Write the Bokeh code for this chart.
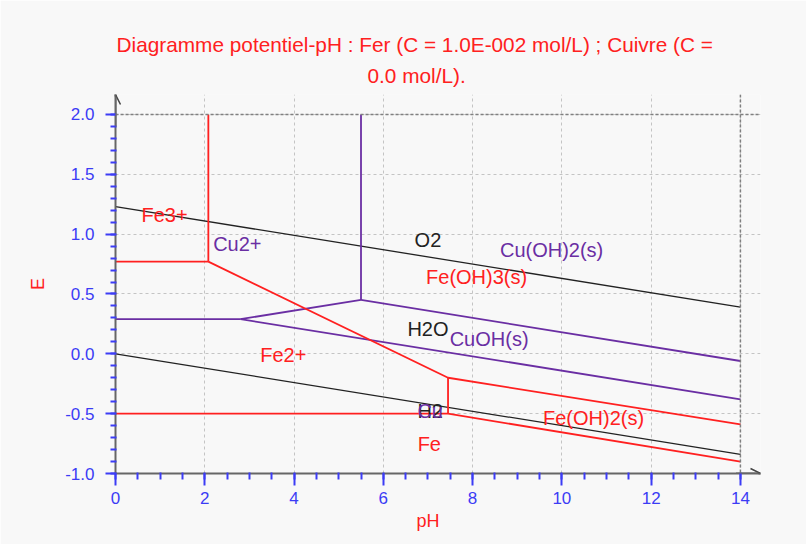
import math
from bokeh.plotting import figure
from bokeh.models import (ColumnDataSource, FixedTicker, NumeralTickFormatter, Title,
                          Arrow, OpenHead, Span)
from bokeh.core.properties import value
from bokeh.embed import file_html
from bokeh.resources import INLINE

# ---------------- data ----------------
# water lines
water_ph = [[0, 14], [0, 14]]
water_E = [[1.23, 0.39], [0.0, -0.84]]

# iron boundaries
fe_ph = [[2.08, 2.08], [0, 2.08], [2.08, 7.45], [7.45, 7.45], [0, 7.45], [7.45, 14], [7.45, 14]]
fe_E = [[0.77, 2.0], [0.77, 0.77], [0.77, -0.2], [-0.2, -0.5], [-0.5, -0.5], [-0.2, -0.59], [-0.5, -0.9]]

# copper boundaries
cu_ph = [[5.5, 5.5], [0, 2.8], [2.8, 5.5], [5.5, 14], [2.8, 14]]
cu_E = [[0.45, 2.0], [0.29, 0.29], [0.29, 0.45], [0.45, -0.06], [0.29, -0.38]]

# species labels
water_lbl = ["O2", "H2O", "H2"]
water_lbl_ph = [7.0, 7.0, 7.05]
water_lbl_E = [0.955, 0.21, -0.48]

fe_lbl = ["Fe3+", "Fe(OH)3(s)", "Fe2+", "Fe", "Fe(OH)2(s)"]
fe_lbl_ph = [1.1, 8.09, 3.76, 7.03, 10.71]
fe_lbl_E = [1.156, 0.638, -0.006, -0.75, -0.54]

cu_lbl = ["Cu2+", "Cu(OH)2(s)", "CuOH(s)", "Cu"]
cu_lbl_ph = [2.73, 9.77, 8.37, 7.05]
cu_lbl_E = [0.914, 0.864, 0.12, -0.48]

x_ticks = [0, 2, 4, 6, 8, 10, 12, 14]
y_ticks = [-1.0, -0.5, 0.0, 0.5, 1.0, 1.5, 2.0]

title_lines = ["Diagramme potentiel-pH : Fer (C = 1.0E-002 mol/L) ; Cuivre (C =", "0.0 mol/L)."]

# ---------------- styling ----------------
RED = "#ff2020"
PURPLE = "#6a2ea3"
BLACK = "#222222"
BLUE = "#3c3cf5"
BG = "#f8f8f8"
FONT = "Liberation Sans"

X_END = 14.45
Y_END = 2.167

p = figure(width=806, height=544, output_backend="svg", toolbar_location=None,
           x_range=(0, X_END), y_range=(-1.0, Y_END),
           min_border_left=115, min_border_right=46, min_border_top=94, min_border_bottom=71)
p.background_fill_color = BG
p.border_fill_color = BG
p.outline_line_color = None

# title: two lines
p.title.text = title_lines[0]
p.title.align = "left"
p.title.offset = 1
p.title.standoff = -2
p.title.text_color = RED
p.title.text_font = FONT
p.title.text_font_size = "20.8px"
p.title.text_font_style = "normal"
p.add_layout(Title(text=title_lines[1], align="left", offset=252, standoff=15,
                   text_color=RED, text_font=FONT, text_font_size="20.8px",
                   text_font_style="normal"), "above")

# grid
for g in (p.xgrid, p.ygrid):
    g.grid_line_color = "#c4c4c4"
    g.grid_line_dash = "3 3"
    g.grid_line_width = 1

p.xaxis.ticker = FixedTicker(ticks=x_ticks, minor_ticks=[i * 0.5 for i in range(29)])
p.yaxis.ticker = FixedTicker(ticks=y_ticks, minor_ticks=[round(-1 + i * 0.1, 2) for i in range(31)])
p.xgrid.ticker = FixedTicker(ticks=x_ticks)
p.ygrid.ticker = FixedTicker(ticks=y_ticks)
p.yaxis.formatter = NumeralTickFormatter(format="0.0")

for ax in (p.xaxis, p.yaxis):
    ax.axis_line_color = "#666666"
    ax.axis_line_width = 2
    ax.major_tick_line_color = BLUE
    ax.major_tick_line_width = 2
    ax.minor_tick_line_color = BLUE
    ax.minor_tick_line_width = 2
    ax.major_label_text_color = BLUE
    ax.major_label_text_font = FONT
    ax.major_label_text_font_size = "17px"
    ax.major_tick_in = 0
    ax.minor_tick_in = 1
p.xaxis.major_tick_out = 12
p.xaxis.minor_tick_out = 6
p.xaxis.major_label_standoff = 6
p.yaxis.major_tick_out = 10
p.yaxis.minor_tick_out = 5
p.yaxis.major_label_standoff = 11

# axis titles
p.yaxis.axis_label = "E"
p.yaxis.axis_label_text_color = RED
p.yaxis.axis_label_text_font = FONT
p.yaxis.axis_label_text_font_size = "18px"
p.yaxis.axis_label_text_font_style = "normal"
p.yaxis.axis_label_standoff = 14

p.add_layout(Title(text="pH", align="left", offset=301, standoff=4,
                   text_color=RED, text_font=FONT, text_font_size="18px",
                   text_font_style="normal"), "below")

# dashed frame edges at E=2 and pH=14
p.add_layout(Span(location=2.0, dimension="width", line_color="#808080", line_dash="3 2", line_width=1.5))
p.add_layout(Span(location=14.0, dimension="height", line_color="#808080", line_dash="3 2", line_width=1.5))

# lines
p.multi_line(xs=water_ph, ys=water_E, line_color=BLACK, line_width=1.3)
p.multi_line(xs=cu_ph, ys=cu_E, line_color=PURPLE, line_width=1.8)
p.multi_line(xs=fe_ph, ys=fe_E, line_color=RED, line_width=1.8)

# labels
def add_text(xs, ys, texts, color):
    src = ColumnDataSource(dict(x=xs, y=ys, t=texts))
    p.text(x="x", y="y", text="t", source=src, text_color=color,
           text_font=value(FONT), text_font_size="20px",
           text_align="center", text_baseline="middle")

add_text(water_lbl_ph, water_lbl_E, water_lbl, BLACK)
add_text(cu_lbl_ph, cu_lbl_E, cu_lbl, PURPLE)
add_text(fe_lbl_ph, fe_lbl_E, fe_lbl, RED)

# axis arrows
p.add_layout(Arrow(x_start=0, y_start=1.9, x_end=0, y_end=Y_END,
                   end=OpenHead(size=10, line_color="#444444", line_width=1.5),
                   line_color="#666666", line_width=2))
p.add_layout(Arrow(x_start=13.9, y_start=-1.0, x_end=X_END, y_end=-1.0,
                   end=OpenHead(size=10, line_color="#444444", line_width=1.5),
                   line_color="#666666", line_width=2))

open("out.html", "w").write(file_html(p, INLINE))
